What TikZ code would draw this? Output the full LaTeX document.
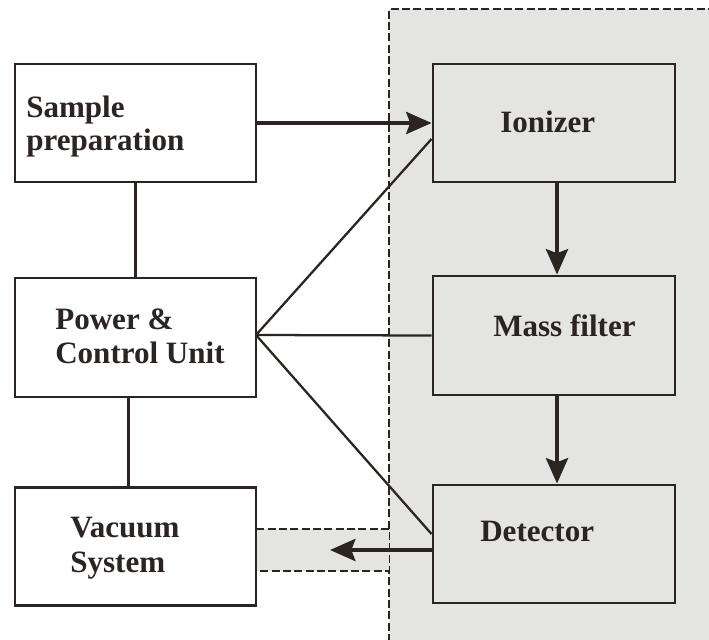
\documentclass[tikz,border=0pt]{standalone}
\usepackage{fontspec}
\setmainfont{Liberation Serif}
\usetikzlibrary{arrows.meta}
\definecolor{ink}{HTML}{2B2420}
\definecolor{bggray}{HTML}{E4E4E2}
\tikzset{
  box/.style={draw=ink, line width=2.2pt, rectangle, minimum width=180.75pt, minimum height=88.5pt, inner sep=0pt},
  lbl/.style={anchor=base west, inner sep=0pt, text=ink, font=\fontsize{23.3}{26}\selectfont\bfseries},
  thin/.style={draw=ink, line width=1.7pt},
  flow/.style={draw=ink, line width=3pt, -{Stealth[length=19pt, width=16.5pt, inset=3pt]}},
  dashline/.style={draw=ink, line width=1.5pt, dash pattern=on 6pt off 2.5pt},
}
\begin{document}
\begin{tikzpicture}[x=0.75pt, y=-0.75pt]
\useasboundingbox (0,0) rectangle (709,639);
% shaded region
\fill[bggray] (389,9) rectangle (712,642);
\draw[dashline] (389,642) -- (389,9) -- (712,9);
\fill[bggray] (255,529) rectangle (389,571);
\draw[dashline] (389,529) -- (255,529) -- (255,571) -- (389,571);
% boxes
\node[box, fill=white] (sample) at (135.5,123) {};
\node[box, fill=white, minimum height=89.25pt] (power) at (135.5,337.5) {};
\node[box, fill=white] (vacuum) at (135.5,546.5) {};
\node[box, fill=bggray, minimum width=181.5pt] (ionizer) at (554,123) {};
\node[box, fill=bggray, minimum width=181.5pt, minimum height=89.25pt] (mass) at (554,335.5) {};
\node[box, fill=bggray, minimum width=181.5pt] (detector) at (554,544) {};
% texts
\node[lbl] (t1a) at (26,117) {Sample};
\node[lbl] (t1b) at (26,150) {preparation};
\node[lbl] (t2a) at (55,329) {Power \&};
\node[lbl] (t2b) at (55,363) {Control Unit};
\node[lbl] (t3a) at (70,537) {Vacuum};
\node[lbl] (t3b) at (70,572) {System};
\node[lbl] (t4) at (500,132) {Ionizer};
\node[lbl] (t5) at (493,336) {Mass filter};
\node[lbl] (t6) at (480,541) {Detector};
% connectors
\coordinate (pE) at (256,335);
\coordinate (vtip) at (330,550);
\draw[thin] (sample.south) -- (power.north);
\draw[thin] ([xshift=-5.25pt]power.south) -- ([xshift=-5.25pt]vacuum.north);
\draw[thin] (pE) -- ([yshift=-12pt]ionizer.west);
\draw[thin] (pE) -- (mass.west);
\draw[thin] (pE) -- ([yshift=7.5pt]detector.west);
\draw[flow] (sample.east) -- (ionizer.west);
\draw[flow] ([xshift=2.25pt]ionizer.south) -- ([xshift=2.25pt]mass.north);
\draw[flow] ([xshift=2.25pt]mass.south) -- ([xshift=2.25pt]detector.north);
\draw[flow] ([yshift=-4.5pt]detector.west) -- (vtip);
\end{tikzpicture}
\end{document}
